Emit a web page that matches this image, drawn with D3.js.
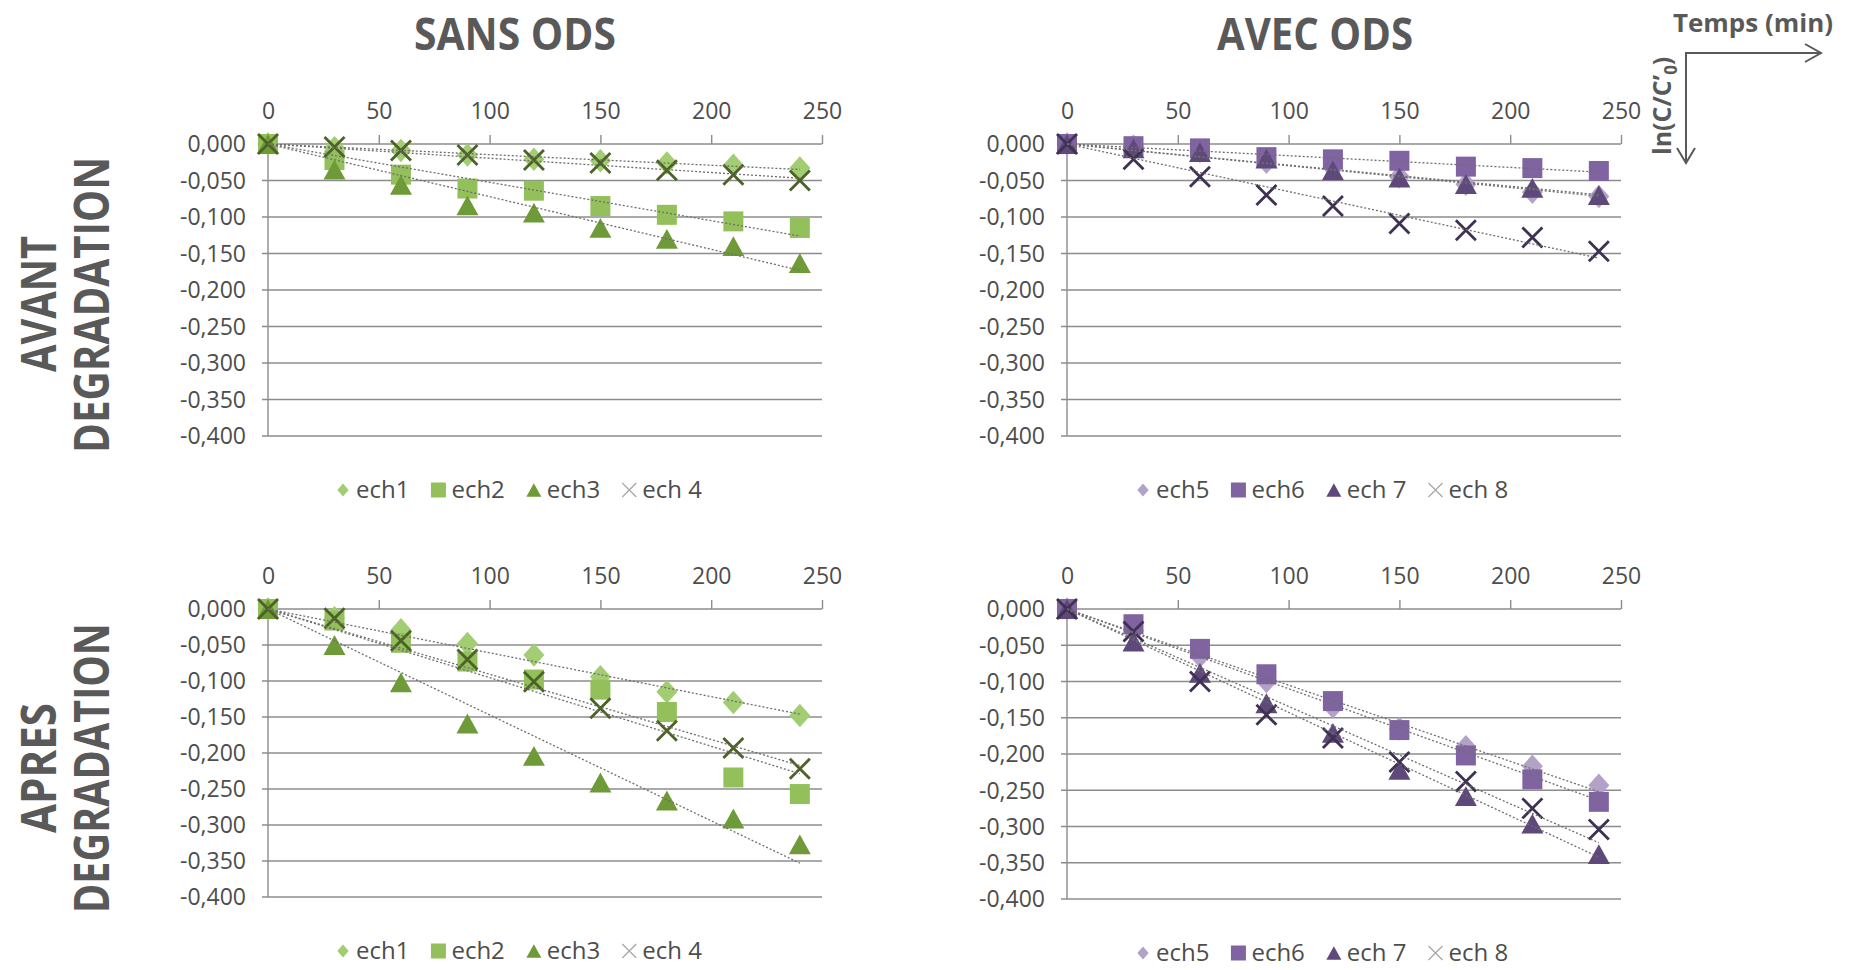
<!DOCTYPE html>
<html>
<head>
<meta charset="utf-8">
<script src="https://cdn.jsdelivr.net/npm/d3@7"></script>
<style>
  body { margin: 0; background: #fff; }
  text { font-family: "Open Sans", sans-serif; fill: #595959; }
  .lbl { fill: #4d4d4d; }
</style>
</head>
<body>
<svg id="chart" width="1853" height="970"></svg>
<script>
// Sampling times (min) and axis ticks
const times = [0, 30, 60, 90, 120, 150, 180, 210, 240];
const xTicks = [0, 50, 100, 150, 200, 250];
const yTicks = [0, -0.05, -0.1, -0.15, -0.2, -0.25, -0.3, -0.35, -0.4];

const sansNames = ["ech1", "ech2", "ech3", "ech 4"];
const avecNames = ["ech5", "ech6", "ech 7", "ech 8"];

// ln(C/C'0) - avant degradation, sans ODS
const avantSans1 = [0, -0.005, -0.009, -0.015, -0.021, -0.023, -0.026, -0.029, -0.033];
const avantSans2 = [0, -0.022, -0.042, -0.061, -0.064, -0.085, -0.097, -0.106, -0.115];
const avantSans3 = [0, -0.035, -0.056, -0.084, -0.094, -0.115, -0.130, -0.140, -0.163];
const avantSans4 = [0, -0.004, -0.009, -0.015, -0.022, -0.026, -0.036, -0.042, -0.050];

// avant degradation, avec ODS
const avantAvec5 = [0, -0.003, -0.010, -0.025, -0.033, -0.045, -0.055, -0.066, -0.072];
const avantAvec6 = [0, -0.003, -0.006, -0.018, -0.021, -0.023, -0.031, -0.033, -0.037];
const avantAvec7 = [0, -0.006, -0.011, -0.020, -0.036, -0.046, -0.055, -0.060, -0.070];
const avantAvec8 = [0, -0.021, -0.045, -0.070, -0.085, -0.109, -0.118, -0.128, -0.147];

// apres degradation, sans ODS
const apresSans1 = [0, -0.012, -0.029, -0.048, -0.064, -0.094, -0.115, -0.130, -0.148];
const apresSans2 = [0, -0.016, -0.047, -0.073, -0.098, -0.112, -0.143, -0.234, -0.257];
const apresSans3 = [0, -0.050, -0.102, -0.159, -0.204, -0.241, -0.266, -0.291, -0.327];
const apresSans4 = [0, -0.013, -0.044, -0.070, -0.101, -0.138, -0.169, -0.193, -0.222];

// apres degradation, avec ODS
const apresAvec5 = [0, -0.030, -0.065, -0.100, -0.135, -0.165, -0.190, -0.217, -0.243];
const apresAvec6 = [0, -0.021, -0.055, -0.090, -0.127, -0.167, -0.202, -0.235, -0.266];
const apresAvec7 = [0, -0.045, -0.088, -0.130, -0.171, -0.222, -0.258, -0.296, -0.338];
const apresAvec8 = [0, -0.031, -0.100, -0.146, -0.178, -0.211, -0.238, -0.275, -0.304];

const greens = ["#a3cd72", "#93c05a", "#6f9a38", "#4c6226"];
const purples = ["#b3a2c7", "#8064a2", "#5f497a", "#3f3151"];
const gridColor = "#8c8c8c";

// Excel-like marker shapes (size = box width squared)
const shapes = [
  { draw(c, s) { const r = Math.sqrt(s) / 2; c.moveTo(0, -r * 1.12); c.lineTo(r, 0); c.lineTo(0, r * 1.12); c.lineTo(-r, 0); c.closePath(); } },
  { draw(c, s) { const r = Math.sqrt(s) / 2; c.rect(-r, -r, 2 * r, 2 * r); } },
  { draw(c, s) { const r = Math.sqrt(s) / 2; c.moveTo(0, -r * 0.9); c.lineTo(r, r * 0.9); c.lineTo(-r, r * 0.9); c.closePath(); } },
  { draw(c, s) { const r = Math.sqrt(s) / 2; c.moveTo(-r, -r); c.lineTo(r, r); c.moveTo(r, -r); c.lineTo(-r, r); } }
];
const markerSize = [441, 400, 484, 400];
const legendSize = [130, 225, 225, 196];

const svg = d3.select("#chart");

const fmt = d3.formatLocale({ decimal: ",", thousands: ".", grouping: [3], currency: ["", ""], minus: "-" }).format(".3f");

const panels = [
  { series: [avantSans1, avantSans2, avantSans3, avantSans4], names: sansNames, colors: greens,
    left: 268, right: 822, top: 144, bottom: 436, legendX: 336, legendY: 490 },
  { series: [avantAvec5, avantAvec6, avantAvec7, avantAvec8], names: avecNames, colors: purples,
    left: 1067, right: 1621, top: 144, bottom: 436, legendX: 1136, legendY: 490 },
  { series: [apresSans1, apresSans2, apresSans3, apresSans4], names: sansNames, colors: greens,
    left: 268, right: 822, top: 609, bottom: 897, legendX: 336, legendY: 951 },
  { series: [apresAvec5, apresAvec6, apresAvec7, apresAvec8], names: avecNames, colors: purples,
    left: 1067, right: 1621, top: 609, bottom: 899, legendX: 1136, legendY: 953 }
];

function drawPanel(p) {
  const x = d3.scaleLinear().domain([0, 250]).range([p.left, p.right]);
  const y = d3.scaleLinear().domain([-0.4, 0]).range([p.bottom, p.top]);
  const g = svg.append("g");

  // horizontal gridlines (the 0 line doubles as the x axis)
  g.selectAll(".grid")
    .data(yTicks)
    .join("line")
    .attr("class", "grid")
    .attr("x1", p.left - 6)
    .attr("x2", p.right)
    .attr("y1", (d) => y(d))
    .attr("y2", (d) => y(d))
    .attr("stroke", gridColor)
    .attr("stroke-width", 1.4);

  // vertical axis line
  g.append("line")
    .attr("x1", x(0)).attr("x2", x(0))
    .attr("y1", y(0)).attr("y2", y(-0.4))
    .attr("stroke", gridColor)
    .attr("stroke-width", 1.4);

  // x axis on top, labels above
  const xa = g.append("g")
    .attr("transform", `translate(0,${y(0)})`)
    .call(d3.axisTop(x).tickValues(xTicks).tickSize(9).tickSizeOuter(0).tickPadding(16).tickFormat(d3.format("d")));
  xa.select(".domain").remove();
  xa.selectAll("line").attr("stroke", gridColor).attr("stroke-width", 1.4);
  xa.selectAll("text").attr("class", "lbl").style("font-size", "23px");

  // y labels
  const ya = g.append("g")
    .attr("transform", `translate(${x(0)},0)`)
    .call(d3.axisLeft(y).tickValues(yTicks).tickSize(0).tickPadding(22).tickFormat(fmt));
  ya.select(".domain").remove();
  ya.selectAll("text").attr("class", "lbl").style("font-size", "23px").attr("dy", "0.34em");

  // markers
  p.series.forEach((vals, i) => {
    const isX = i === 3;
    g.append("g")
      .selectAll("path")
      .data(times.map((t, j) => [t, vals[j]]))
      .join("path")
      .attr("transform", (d) => `translate(${x(d[0])},${y(d[1])})`)
      .attr("d", d3.symbol(shapes[i], markerSize[i]))
      .attr("fill", isX ? "none" : p.colors[i])
      .attr("stroke", isX ? p.colors[i] : "none")
      .attr("stroke-width", isX ? 2.8 : 0);
  });

  // linear trendlines forced through the origin
  const line = d3.line().x((d) => x(d[0])).y((d) => y(d[1]));
  p.series.forEach((vals) => {
    const slope = d3.sum(times, (t, j) => t * vals[j]) / d3.sum(times, (t) => t * t);
    const tEnd = d3.max(times);
    g.append("path")
      .attr("d", line([[0, 0], [tEnd, slope * tEnd]]))
      .attr("fill", "none")
      .attr("stroke", "#6e6e6e")
      .attr("stroke-width", 1.3)
      .attr("stroke-dasharray", "2,2");
  });

  // legend
  let cursor = p.legendX;
  p.names.forEach((name, i) => {
    const isX = i === 3;
    const cx = cursor + 7;
    g.append("path")
      .attr("transform", `translate(${cx},${p.legendY})`)
      .attr("d", d3.symbol(shapes[i], legendSize[i]))
      .attr("fill", isX ? "none" : p.colors[i])
      .attr("stroke", isX ? "#a6a6a6" : "none")
      .attr("stroke-width", isX ? 1.2 : 0);
    const t = g.append("text")
      .attr("class", "lbl")
      .attr("x", cx + 13)
      .attr("y", p.legendY + 8)
      .style("font-size", "24px")
      .text(name);
    cursor = cx + 13 + t.node().getComputedTextLength() + 22;
  });
}

panels.forEach(drawPanel);

// column titles
const titles = [
  { text: "SANS ODS", x: 515, w: 202 },
  { text: "AVEC ODS", x: 1315, w: 196 }
];
titles.forEach((t) => {
  svg.append("text")
    .attr("x", t.x - t.w / 2)
    .attr("y", 50)
    .attr("textLength", t.w)
    .attr("lengthAdjust", "spacingAndGlyphs")
    .style("font-size", "45px")
    .style("font-weight", "bold")
    .text(t.text);
});

// row titles (rotated)
const rowTitles = [
  { text: "AVANT", x: 56, cy: 304, len: 136 },
  { text: "DEGRADATION", x: 109, cy: 305, len: 296 },
  { text: "APRES", x: 56, cy: 768, len: 130 },
  { text: "DEGRADATION", x: 109, cy: 768, len: 290 }
];
rowTitles.forEach((r) => {
  svg.append("text")
    .attr("transform", `translate(${r.x},${r.cy + r.len / 2}) rotate(-90)`)
    .attr("textLength", r.len)
    .attr("lengthAdjust", "spacingAndGlyphs")
    .style("font-size", "49px")
    .style("font-weight", "bold")
    .text(r.text);
});

// axis key in the top right corner
svg.append("text")
  .attr("x", 1673)
  .attr("y", 32)
  .attr("textLength", 160)
  .attr("lengthAdjust", "spacingAndGlyphs")
  .style("font-size", "25px")
  .style("font-weight", "bold")
  .text("Temps (min)");

const lnLabel = svg.append("text")
  .attr("transform", "translate(1671,155) rotate(-90)")
  .style("font-size", "25px")
  .style("font-weight", "bold");
lnLabel.append("tspan").text("ln(C/C’");
lnLabel.append("tspan").attr("dy", 6).style("font-size", "17px").text("0");
lnLabel.append("tspan").attr("dy", -6).text(")");

const key = svg.append("g")
  .attr("fill", "none")
  .attr("stroke", "#595959")
  .attr("stroke-width", 2);
key.append("path").attr("d", "M1686,163 L1686,53 L1821,53");
key.append("path").attr("d", "M1805,44 L1821,53 L1805,62");
key.append("path").attr("d", "M1677,148 L1686,163 L1695,148");
</script>
</body>
</html>
